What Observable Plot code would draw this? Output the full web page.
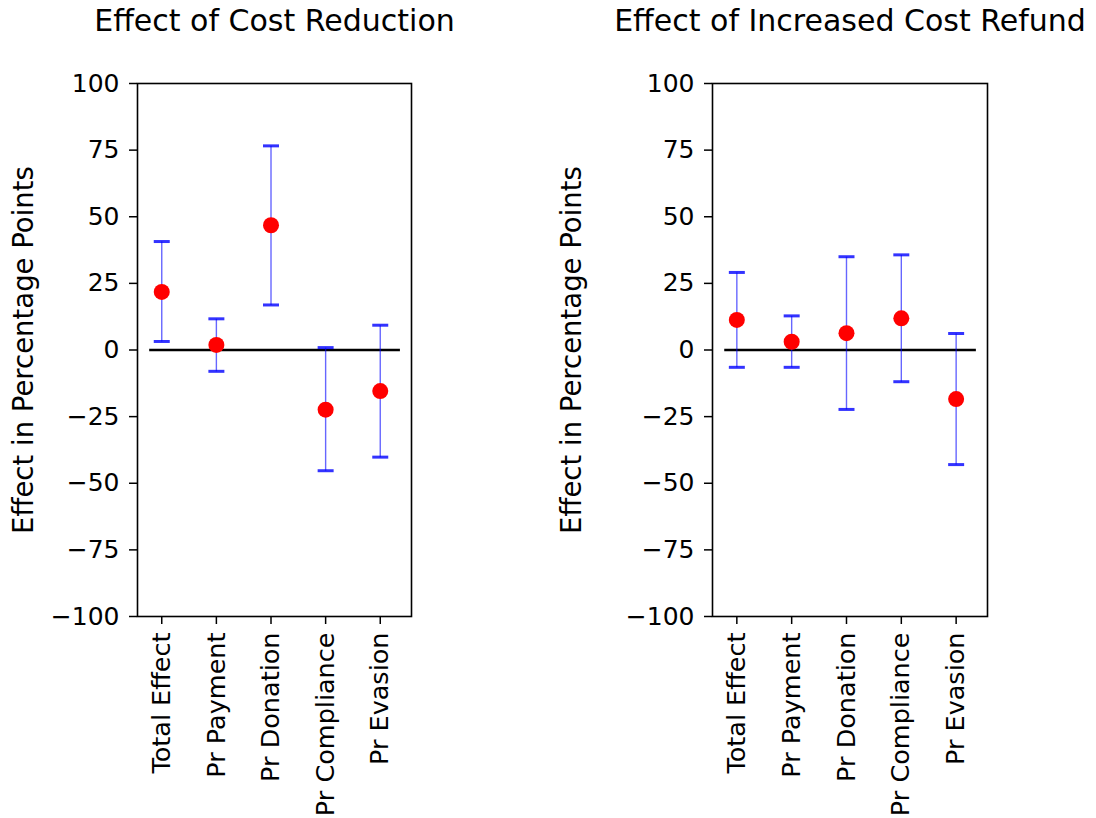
<!DOCTYPE html>
<html>
<head>
<meta charset="utf-8">
<script src="https://cdn.jsdelivr.net/npm/d3@7"></script>
<script src="https://cdn.jsdelivr.net/npm/@observablehq/plot@0.6"></script>
<style>
  html, body { margin: 0; padding: 0; background: #fff; }
  #wrap { display: flex; width: 1096px; height: 818px; }
  svg { font-family: "DejaVu Sans", sans-serif; }
</style>
</head>
<body>
<div id="wrap"></div>
<script>
const categories = ["Total Effect", "Pr Payment", "Pr Donation", "Pr Compliance", "Pr Evasion"];
const yTicks = [-100, -75, -50, -25, 0, 25, 50, 75, 100];

const costReductionEst  = [21.8, 1.9, 46.8, -22.4, -15.4];
const costReductionLow  = [3.2, -8.0, 16.9, -45.3, -40.2];
const costReductionHigh = [40.7, 11.7, 76.6, 0.9, 9.3];

const refundEst  = [11.3, 3.1, 6.3, 11.9, -18.4];
const refundLow  = [-6.5, -6.5, -22.3, -11.9, -43.0];
const refundHigh = [29.1, 12.8, 35.0, 35.7, 6.2];

const titles = ["Effect of Cost Reduction", "Effect of Increased Cost Refund"];
const yLabel = "Effect in Percentage Points";

const capSymbol = {
  draw(ctx, size) {
    const w = Math.sqrt(size / Math.PI);
    ctx.moveTo(-w, 0);
    ctx.lineTo(w, 0);
  }
};

function makeRows(est, low, high) {
  return categories.map((c, i) => ({i, cat: c, est: est[i], low: low[i], high: high[i]}));
}

function panel(title, rows, ml, mr) {
  return Plot.plot({
    width: 548,
    height: 818,
    marginLeft: ml,
    marginRight: mr,
    marginTop: 83,
    marginBottom: 202,
    style: {fontFamily: "DejaVu Sans", fontSize: "25px", color: "black", background: "white", overflow: "visible"},
    x: {domain: [-0.444, 4.572]},
    y: {domain: [-100, 100]},
    marks: [
      Plot.link([0], {x1: -0.23, x2: 4.36, y1: 0, y2: 0, stroke: "black", strokeWidth: 2.4}),
      Plot.link(rows, {x1: "i", x2: "i", y1: "low", y2: "high", stroke: "blue", strokeOpacity: 0.6, strokeWidth: 1.4}),
      Plot.dot(rows, {x: "i", y: "high", symbol: capSymbol, r: 8, stroke: "blue", strokeOpacity: 0.8, strokeWidth: 3}),
      Plot.dot(rows, {x: "i", y: "low", symbol: capSymbol, r: 8, stroke: "blue", strokeOpacity: 0.8, strokeWidth: 3}),
      Plot.dot(rows, {x: "i", y: "est", r: 8, fill: "red", stroke: "none"}),
      Plot.frame({stroke: "black", strokeWidth: 1.6}),
      Plot.axisY({ticks: yTicks, tickSize: 8, tickPadding: 10, fontSize: 25, label: null, strokeWidth: 1.5}),
      Plot.axisX({ticks: [0, 1, 2, 3, 4], tickFormat: i => categories[i], tickRotate: -90, tickSize: 8, tickPadding: 8, fontSize: 25.5, label: null, strokeWidth: 1.5}),
      Plot.text([title], {text: d => d, frameAnchor: "top", dy: -53, lineAnchor: "bottom", textAnchor: "middle", fontSize: 30, fill: "black"}),
      Plot.text([yLabel], {text: d => d, frameAnchor: "left", dx: -(ml - 32), rotate: -90, textAnchor: "middle", lineAnchor: "bottom", fontSize: 27.5, fill: "black"})
    ]
  });
}

const wrap = document.getElementById("wrap");
wrap.appendChild(panel(titles[0], makeRows(costReductionEst, costReductionLow, costReductionHigh), 137, 137));
wrap.appendChild(panel(titles[1], makeRows(refundEst, refundLow, refundHigh), 164, 109));
</script>
</body>
</html>
